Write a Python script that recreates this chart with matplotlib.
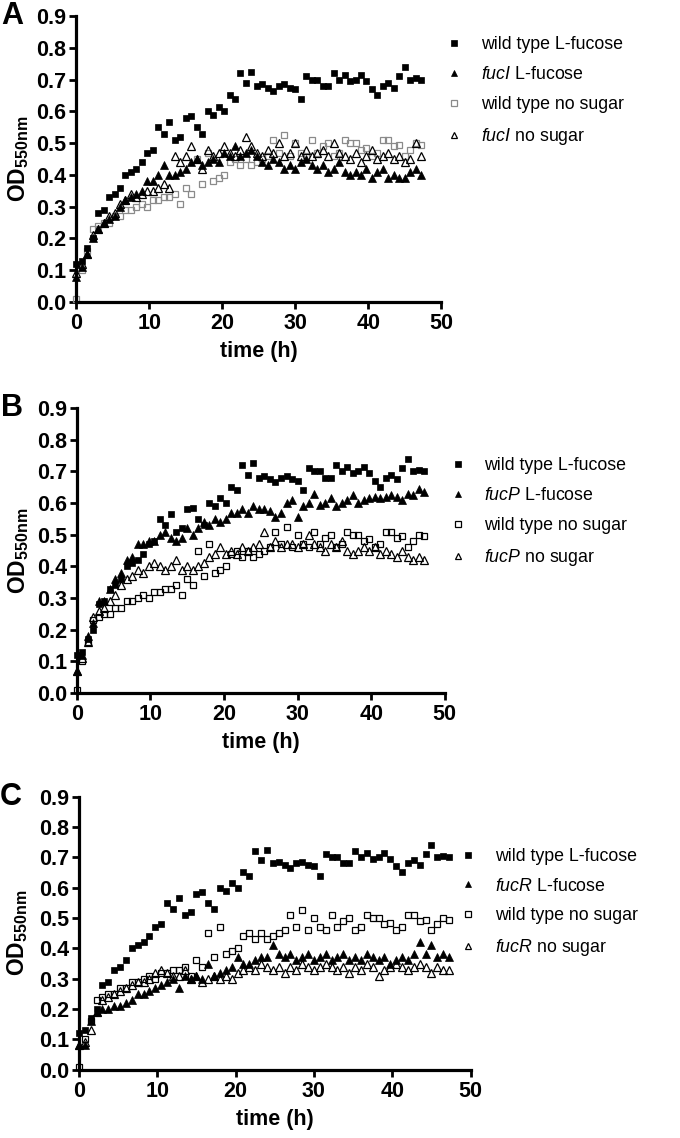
import numpy as np
import matplotlib
matplotlib.use("Agg")
import matplotlib.pyplot as plt

plt.rcParams['font.family'] = ['Liberation Sans', 'DejaVu Sans']
plt.rcParams['mathtext.fontset'] = 'custom'
plt.rcParams['mathtext.rm'] = 'Liberation Sans'
plt.rcParams['mathtext.it'] = 'Liberation Sans:italic'
plt.rcParams['mathtext.bf'] = 'Liberation Sans:bold'

# sampling times (h)
time_h = np.arange(0, 47.5, 0.75)

# OD550 readings, shared controls
wt_fuc = [0.12, 0.13, 0.17, 0.20, 0.28, 0.29, 0.33, 0.34,
          0.36, 0.40, 0.41, 0.42, 0.44, 0.47, 0.48, 0.55,
          0.53, 0.565, 0.51, 0.52, 0.58, 0.585, 0.55, 0.53,
          0.60, 0.59, 0.615, 0.60, 0.65, 0.64, 0.72, 0.69,
          0.725, 0.68, 0.685, 0.675, 0.665, 0.68, 0.685, 0.675,
          0.67, 0.64, 0.71, 0.70, 0.70, 0.68, 0.68, 0.72,
          0.70, 0.715, 0.695, 0.70, 0.715, 0.695, 0.67, 0.65,
          0.68, 0.69, 0.675, 0.71, 0.74, 0.70, 0.705, 0.70]
wt_nosugar = [0.01, 0.10, 0.16, 0.23, 0.24, 0.25, 0.25, 0.27,
              0.27, 0.29, 0.29, 0.30, 0.31, 0.30, 0.32, 0.32,
              0.33, 0.33, 0.34, 0.31, 0.36, 0.34, 0.45, 0.37,
              0.47, 0.38, 0.39, 0.40, 0.44, 0.45, 0.43, 0.45,
              0.43, 0.44, 0.45, 0.46, 0.51, 0.47, 0.525, 0.46,
              0.50, 0.47, 0.46, 0.51, 0.47, 0.49, 0.50, 0.46,
              0.47, 0.51, 0.50, 0.50, 0.48, 0.485, 0.46, 0.47,
              0.51, 0.51, 0.49, 0.495, 0.46, 0.48, 0.50, 0.495]

# mutants
fucI_fuc = [0.08, 0.11, 0.15, 0.20, 0.23, 0.25, 0.26, 0.27,
            0.30, 0.32, 0.33, 0.34, 0.35, 0.38, 0.38, 0.40,
            0.43, 0.40, 0.40, 0.41, 0.42, 0.44, 0.45, 0.43,
            0.44, 0.45, 0.44, 0.47, 0.46, 0.49, 0.46, 0.47,
            0.48, 0.46, 0.44, 0.43, 0.45, 0.44, 0.42, 0.43,
            0.42, 0.44, 0.45, 0.43, 0.42, 0.43, 0.41, 0.42,
            0.44, 0.41, 0.40, 0.41, 0.40, 0.42, 0.39, 0.41,
            0.42, 0.39, 0.40, 0.39, 0.39, 0.41, 0.42, 0.40]
fucI_nosugar = [0.09, 0.12, 0.15, 0.21, 0.23, 0.25, 0.27, 0.28,
                0.31, 0.32, 0.34, 0.33, 0.34, 0.35, 0.35, 0.36,
                0.37, 0.36, 0.46, 0.44, 0.46, 0.49, 0.45, 0.42,
                0.48, 0.46, 0.47, 0.49, 0.47, 0.46, 0.48, 0.52,
                0.49, 0.47, 0.46, 0.48, 0.47, 0.50, 0.46, 0.47,
                0.50, 0.46, 0.48, 0.46, 0.47, 0.48, 0.46, 0.50,
                0.47, 0.46, 0.45, 0.47, 0.44, 0.46, 0.48, 0.45,
                0.46, 0.47, 0.45, 0.46, 0.44, 0.45, 0.50, 0.46]
fucP_fuc = [0.07, 0.12, 0.18, 0.22, 0.29, 0.29, 0.33, 0.36,
            0.38, 0.42, 0.43, 0.47, 0.47, 0.48, 0.48, 0.50,
            0.51, 0.49, 0.48, 0.49, 0.52, 0.50, 0.52, 0.54,
            0.53, 0.55, 0.54, 0.55, 0.57, 0.57, 0.58, 0.57,
            0.59, 0.58, 0.58, 0.575, 0.555, 0.57, 0.60, 0.61,
            0.555, 0.59, 0.60, 0.63, 0.595, 0.60, 0.615, 0.59,
            0.60, 0.61, 0.625, 0.60, 0.61, 0.615, 0.62, 0.615,
            0.62, 0.625, 0.62, 0.61, 0.63, 0.625, 0.645, 0.635]
fucP_nosugar = [0.07, 0.11, 0.16, 0.24, 0.26, 0.27, 0.29, 0.31,
                0.34, 0.36, 0.37, 0.39, 0.38, 0.40, 0.41, 0.40,
                0.39, 0.40, 0.42, 0.39, 0.40, 0.39, 0.40, 0.41,
                0.43, 0.44, 0.46, 0.44, 0.45, 0.44, 0.46, 0.45,
                0.46, 0.47, 0.51, 0.46, 0.48, 0.46, 0.47, 0.47,
                0.46, 0.47, 0.50, 0.47, 0.46, 0.45, 0.47, 0.46,
                0.48, 0.45, 0.44, 0.45, 0.46, 0.45, 0.46, 0.44,
                0.45, 0.44, 0.43, 0.45, 0.43, 0.42, 0.43, 0.42]
fucR_fuc = [0.08, 0.08, 0.16, 0.19, 0.20, 0.20, 0.21, 0.21,
            0.22, 0.23, 0.25, 0.25, 0.26, 0.27, 0.28, 0.29,
            0.30, 0.27, 0.31, 0.30, 0.31, 0.30, 0.35, 0.31,
            0.32, 0.33, 0.34, 0.37, 0.35, 0.35, 0.36, 0.37,
            0.37, 0.41, 0.38, 0.37, 0.38, 0.36, 0.37, 0.38,
            0.36, 0.37, 0.38, 0.36, 0.37, 0.38, 0.36, 0.37,
            0.36, 0.38, 0.37, 0.36, 0.37, 0.35, 0.36, 0.37,
            0.36, 0.38, 0.42, 0.38, 0.41, 0.37, 0.38, 0.37]
fucR_nosugar = [0.08, 0.09, 0.13, 0.19, 0.23, 0.24, 0.25, 0.26,
                0.27, 0.28, 0.29, 0.29, 0.30, 0.32, 0.33, 0.32,
                0.31, 0.31, 0.33, 0.30, 0.31, 0.29, 0.30, 0.31,
                0.30, 0.31, 0.30, 0.32, 0.33, 0.34, 0.33, 0.35,
                0.34, 0.33, 0.34, 0.32, 0.34, 0.33, 0.35, 0.34,
                0.33, 0.34, 0.35, 0.34, 0.33, 0.34, 0.32, 0.34,
                0.33, 0.35, 0.34, 0.31, 0.33, 0.34, 0.35, 0.34,
                0.33, 0.34, 0.35, 0.34, 0.32, 0.34, 0.33, 0.33]

x_ticks = [0, 10, 20, 30, 40, 50]
y_ticks = [0.0, 0.1, 0.2, 0.3, 0.4, 0.5, 0.6, 0.7, 0.8, 0.9]

# letter, gene, mutant series, wt-no-sugar colour, axes rect, legend anchor
panels = [
    ("A", "fucI", fucI_fuc, fucI_nosugar, "#8a8a8a", [0.112, 0.7346, 0.537, 0.2513], (0.655, 0.968)),
    ("B", "fucP", fucP_fuc, fucP_nosugar, "black", [0.113, 0.391, 0.541, 0.2504], (0.66, 0.598)),
    ("C", "fucR", fucR_fuc, fucR_nosugar, "black", [0.116, 0.06, 0.576, 0.240], (0.675, 0.255)),
]

fig = plt.figure(figsize=(6.8, 11.38), dpi=100)

for letter, gene, mut_fuc, mut_ns, wt_ns_col, rect, leg_xy in panels:
    ax = fig.add_axes(rect)
    kw = dict(linestyle="none", clip_on=False)
    h3, = ax.plot(time_h, wt_nosugar, marker="s", ms=5.0, mfc="none", mec=wt_ns_col, mew=0.9, **kw)
    h4, = ax.plot(time_h, mut_ns, marker="^", ms=6.0, mfc="none", mec="black", mew=0.9, **kw)
    h2, = ax.plot(time_h, mut_fuc, marker="^", ms=6.0, mfc="black", mec="black", mew=0.5, **kw)
    h1, = ax.plot(time_h, wt_fuc, marker="s", ms=5.0, mfc="black", mec="black", mew=0.5, **kw)

    ax.set_xlim(0, 50)
    ax.set_ylim(0, 0.9)
    ax.set_xticks(x_ticks)
    ax.set_yticks(y_ticks)
    ax.set_yticklabels([f"{v:.1f}" for v in y_ticks])
    for s in ["top", "right"]:
        ax.spines[s].set_visible(False)
    for s in ["left", "bottom"]:
        ax.spines[s].set_linewidth(2.3)
    ax.tick_params(direction="out", length=5, width=2.0, labelsize=15.5)
    ax.tick_params(axis="y", pad=2)
    ax.tick_params(axis="x", pad=3)
    for lab in ax.get_xticklabels() + ax.get_yticklabels():
        lab.set_fontweight("bold")
    ax.set_xlabel("time (h)", fontsize=15.5, fontweight="bold", labelpad=5)
    ax.set_ylabel(r"$\mathbf{OD_{550nm}}$", fontsize=16.5)
    ax.yaxis.set_label_coords(-0.125, 0.5)

    ax.text(-0.175, 1.0, letter, transform=ax.transAxes, fontsize=22,
            fontweight="bold", ha="center", va="center")

    labels = ["wild type L-fucose", r"$\it{%s}$ L-fucose" % gene,
              "wild type no sugar", r"$\it{%s}$ no sugar" % gene]
    ax.legend([h1, h2, h3, h4], labels, loc="upper left", bbox_to_anchor=leg_xy,
              bbox_transform=fig.transFigure, frameon=False, fontsize=12.8,
              handlelength=1.0, handletextpad=1.0, labelspacing=0.72,
              borderpad=0, borderaxespad=0, markerscale=0.75)

fig.savefig("out.png", dpi=100)
